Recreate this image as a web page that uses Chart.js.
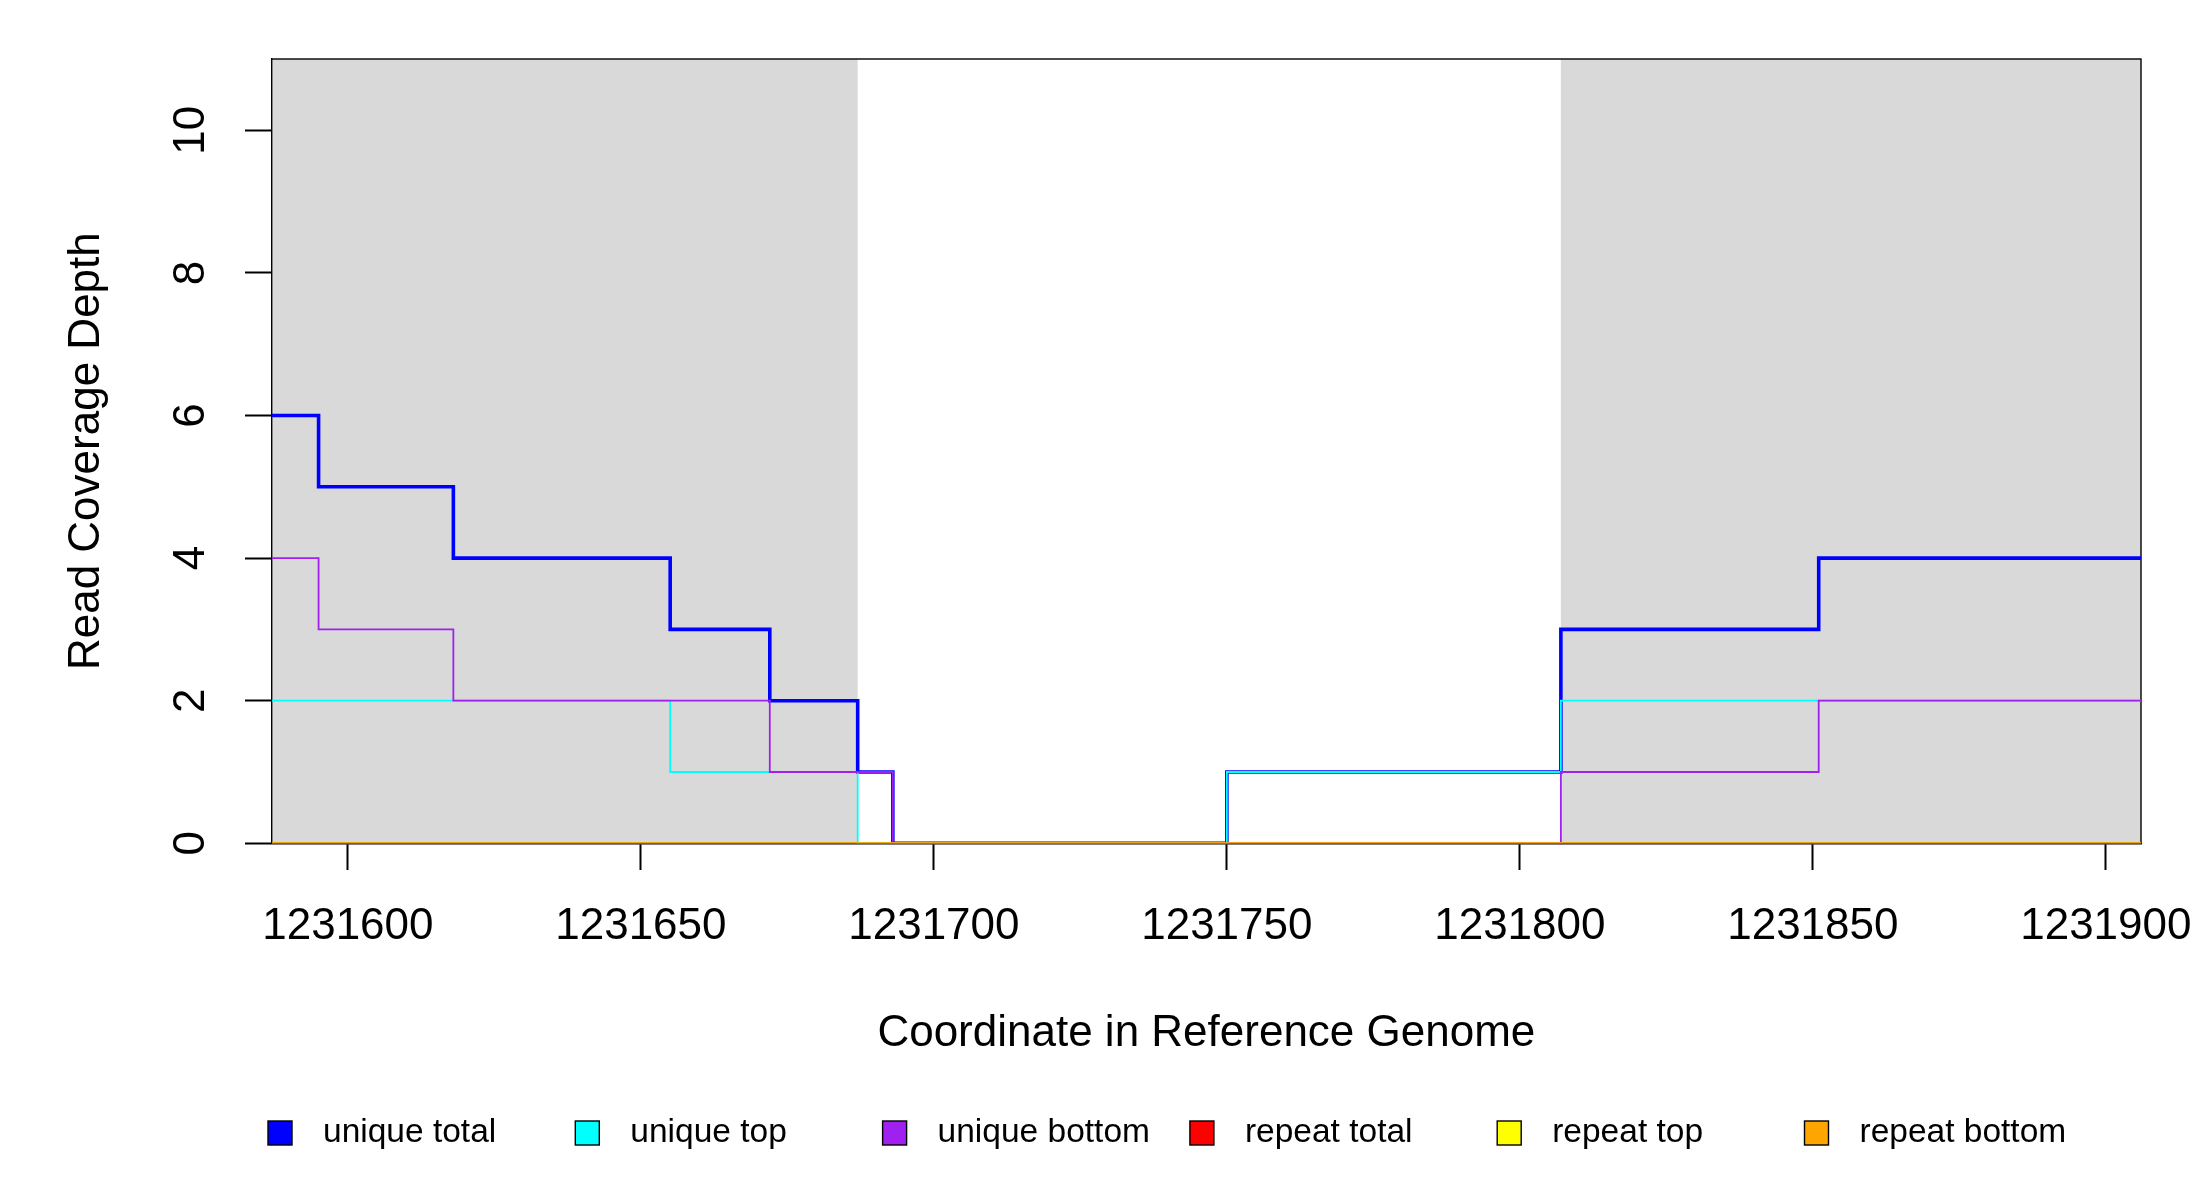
<!DOCTYPE html>
<html><head><meta charset="utf-8">
<script src="https://cdn.jsdelivr.net/npm/chart.js@4.4.1/dist/chart.umd.min.js"></script>
<style>html,body{margin:0;padding:0;background:#fff;}canvas{display:block;}</style>
</head><body>
<canvas id="c" width="2200" height="1200" style="width:2200px;height:1200px"></canvas>
<script>
// ---- data ----
const positions    = [1231587, 1231595, 1231618, 1231655, 1231672, 1231687, 1231693, 1231750, 1231807, 1231851, 1231906];
const uniqueTotal  = [6, 5, 4, 3, 2, 1, 0, 1, 3, 4, 4];
const uniqueTop    = [2, 2, 2, 1, 1, 0, 0, 1, 2, 2, 2];
const uniqueBottom = [4, 3, 2, 2, 1, 1, 0, 0, 1, 2, 2];
const repeatTotal  = [0, 0, 0, 0, 0, 0, 0, 0, 0, 0, 0];
const repeatTop    = [0, 0, 0, 0, 0, 0, 0, 0, 0, 0, 0];
const repeatBottom = [0, 0, 0, 0, 0, 0, 0, 0, 0, 0, 0];
const seriesNames  = ['unique total', 'unique top', 'unique bottom', 'repeat total', 'repeat top', 'repeat bottom'];
const seriesValues = [uniqueTotal, uniqueTop, uniqueBottom, repeatTotal, repeatTop, repeatBottom];
const seriesColors = ['#0000FF', '#00FFFF', '#A020F0', '#FF0000', '#FFFF00', '#FFA500'];
const shadedRegions = [[1231587, 1231687], [1231807, 1231906]];
const xTickValues = [1231600, 1231650, 1231700, 1231750, 1231800, 1231850, 1231900];
const yTickValues = [0, 2, 4, 6, 8, 10];
const xRange = [1231587, 1231906];
const yRange = [0, 11];
const xTitle = 'Coordinate in Reference Genome';
const yTitle = 'Read Coverage Depth';

const FONT = '"Liberation Sans", Arial, Helvetica, sans-serif';

const datasets = seriesNames.map((name, i) => ({
  label: name,
  data: positions.map((p, j) => ({x: p, y: seriesValues[i][j]})),
  borderColor: seriesColors[i],
  backgroundColor: seriesColors[i],
  borderWidth: i === 0 ? 3.6 : 1.8,
  stepped: true,
  pointRadius: 0,
  fill: false,
  order: -i
}));

const decor = {
  id: 'decor',
  beforeDatasetsDraw(chart) {
    const {ctx, chartArea: a, scales: {x}} = chart;
    ctx.save();
    ctx.fillStyle = '#D9D9D9';
    shadedRegions.forEach(([s, e]) => {
      const x0 = x.getPixelForValue(s), x1 = x.getPixelForValue(e);
      ctx.fillRect(x0, a.top, x1 - x0, a.bottom - a.top);
    });
    // box (drawn under the series lines)
    ctx.strokeStyle = '#000';
    ctx.lineWidth = 1.4;
    ctx.strokeRect(a.left, a.top, a.right - a.left, a.bottom - a.top);
    ctx.restore();
  },
  afterDraw(chart) {
    const {ctx, chartArea: a, scales: {y}} = chart;
    ctx.save();
    // rotated y tick labels
    ctx.fillStyle = '#000';
    ctx.font = '44px ' + FONT;
    ctx.textAlign = 'center';
    ctx.textBaseline = 'middle';
    y.ticks.forEach(t => {
      const py = y.getPixelForValue(t.value);
      ctx.save();
      ctx.translate(a.left - 79.5, py);
      ctx.rotate(-Math.PI / 2);
      ctx.fillText(String(t.value), 0, 0);
      ctx.restore();
    });
    // legend
    const ly = 1133, lx0 = 268, step = 307.3, bs = 24;
    ctx.font = '33.5px ' + FONT;
    ctx.textAlign = 'left';
    ctx.textBaseline = 'middle';
    seriesNames.forEach((name, i) => {
      const bx = lx0 + i * step;
      ctx.fillStyle = seriesColors[i];
      ctx.fillRect(bx, ly - bs / 2, bs, bs);
      ctx.lineWidth = 1.4;
      ctx.strokeStyle = '#000';
      ctx.strokeRect(bx, ly - bs / 2, bs, bs);
      ctx.fillStyle = '#000';
      ctx.fillText(name, bx + 55, ly);
    });
    ctx.restore();
  }
};

new Chart(document.getElementById('c'), {
  type: 'line',
  data: {datasets},
  plugins: [decor],
  options: {
    responsive: false,
    animation: false,
    devicePixelRatio: 1,
    events: [],
    layout: {padding: {left: 60.6, right: 59, top: 59, bottom: 139.6}},
    plugins: {legend: {display: false}, tooltip: {enabled: false}},
    scales: {
      x: {
        type: 'linear', min: xRange[0], max: xRange[1],
        afterBuildTicks: s => { s.ticks = xTickValues.map(v => ({value: v})); },
        afterFit: s => { s.height = 217.1; s.paddingLeft = 0; s.paddingRight = 0; },
        ticks: {autoSkip: false, maxRotation: 0, minRotation: 0, padding: 30.5, color: '#000',
          font: {family: FONT, size: 44}, callback: v => String(v)},
        grid: {drawOnChartArea: false, drawTicks: true, tickLength: 26.7, tickWidth: 2, tickColor: '#000'},
        border: {display: true, color: '#000', width: 1.4},
        title: {display: true, text: xTitle, color: '#000', font: {family: FONT, size: 44}, padding: {top: 0, bottom: 0}}
      },
      y: {
        type: 'linear', min: yRange[0], max: yRange[1],
        afterBuildTicks: s => { s.ticks = yTickValues.map(v => ({value: v})); },
        afterFit: s => { s.width = 211.1; s.paddingTop = 0; s.paddingBottom = 0; },
        ticks: {display: false},
        grid: {drawOnChartArea: false, drawTicks: true, tickLength: 26.7, tickWidth: 2, tickColor: '#000'},
        border: {display: true, color: '#000', width: 1.4},
        title: {display: true, text: yTitle, color: '#000', font: {family: FONT, size: 44}, padding: {top: 0, bottom: 0}}
      }
    }
  }
});
</script>
</body></html>
